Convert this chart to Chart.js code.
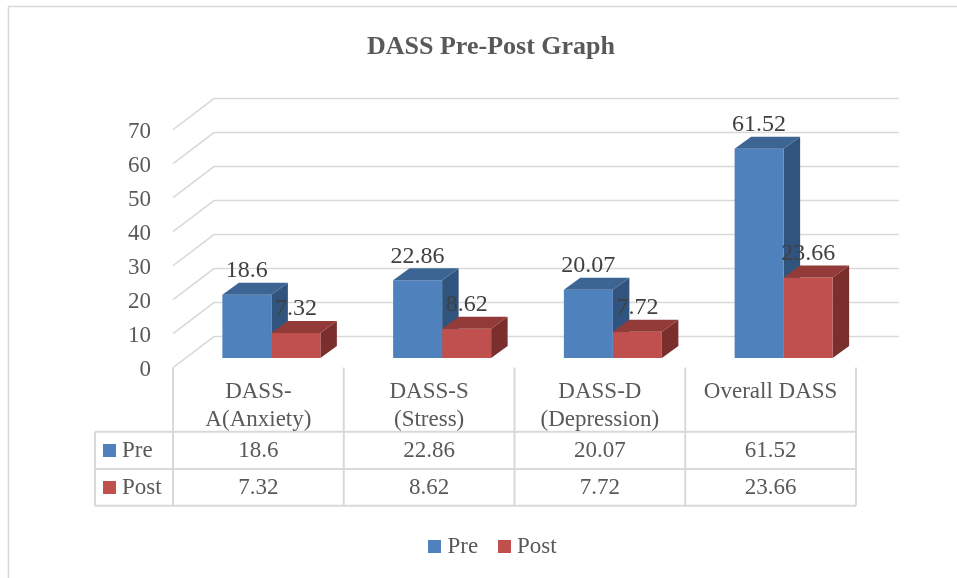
<!DOCTYPE html>
<html>
<head>
<meta charset="utf-8">
<script src="https://cdn.jsdelivr.net/npm/chart.js@4.4.1/dist/chart.umd.min.js"></script>
<style>
  html, body { margin: 0; padding: 0; background: #fff; overflow: hidden; }
  canvas { display: block; }
</style>
</head>
<body>
<canvas id="dassChart" width="957" height="578"></canvas>
<script>
const chartTitle = 'DASS Pre-Post Graph';
const categories = [['DASS-', 'A(Anxiety)'], ['DASS-S', '(Stress)'], ['DASS-D', '(Depression)'], ['Overall DASS']];
const seriesNames = ['Pre', 'Post'];
const preValues = [18.6, 22.86, 20.07, 61.52];
const postValues = [7.32, 8.62, 7.72, 23.66];
const yTicks = [0, 10, 20, 30, 40, 50, 60, 70];

const blue = '#4F81BD', blueTop = '#3D6594', blueSide = '#31547E';
const red = '#C0504D', redTop = '#923B39', redSide = '#7B2F2D';
const gridGrey = '#D9D9D9';
const textGrey = '#595959';
const labelDark = '#404040';
const serif = '"Liberation Serif", "Times New Roman", serif';

// fake 3D: bar plane -> front edge, bar plane -> back wall, bar depth
const toFront = { x: -13, y: 9.6 };
const toBack = { x: 28, y: -21.4 };
const depth = { x: 16.5, y: -12 };

// table rows (y centres) and lines
const headerLines = [392, 420];
const rowY = [450.5, 487.5];
const rowLines = [431.7, 469, 505.7];
const tableLeft = 95;

const fake3d = {
    id: 'fake3d',
    beforeDatasetsDraw(chart) {
        const ctx = chart.ctx;
        const { left, right } = chart.chartArea;
        const y = chart.scales.y;
        ctx.save();

        // outer frame
        ctx.strokeStyle = gridGrey;
        ctx.lineWidth = 1.5;
        ctx.beginPath();
        ctx.moveTo(8.5, 578); ctx.lineTo(8.5, 6.5); ctx.lineTo(957, 6.5);
        ctx.stroke();

        // title
        ctx.fillStyle = textGrey;
        ctx.font = 'bold 26px ' + serif;
        ctx.textAlign = 'center';
        ctx.textBaseline = 'middle';
        ctx.fillText(chartTitle, 491, 47);

        // gridlines on side + back wall, tick labels at front
        ctx.font = '23px ' + serif;
        ctx.textAlign = 'right';
        yTicks.forEach(v => {
            const py = y.getPixelForValue(v);
            ctx.beginPath();
            ctx.moveTo(left + toFront.x, py + toFront.y);
            ctx.lineTo(left + toBack.x, py + toBack.y);
            ctx.lineTo(right + toBack.x + 2, py + toBack.y);
            ctx.stroke();
            ctx.fillText(String(v), 151, py + toFront.y + 2);
        });

        // side faces go under the front faces of the next series
        chart.data.datasets.forEach((ds, i) => {
            chart.getDatasetMeta(i).data.forEach(bar => {
                const x1 = bar.x + bar.width / 2;
                ctx.fillStyle = ds.sideColor;
                ctx.beginPath();
                ctx.moveTo(x1, bar.y);
                ctx.lineTo(x1 + depth.x, bar.y + depth.y);
                ctx.lineTo(x1 + depth.x, bar.base + depth.y);
                ctx.lineTo(x1, bar.base);
                ctx.closePath();
                ctx.fill();
            });
        });
        ctx.restore();
    },
    afterDatasetsDraw(chart) {
        const ctx = chart.ctx;
        const { left, right } = chart.chartArea;
        const x = chart.scales.x;
        ctx.save();

        // top faces + value labels
        chart.data.datasets.forEach((ds, i) => {
            chart.getDatasetMeta(i).data.forEach(bar => {
                const x0 = bar.x - bar.width / 2, x1 = bar.x + bar.width / 2;
                ctx.fillStyle = ds.topColor;
                ctx.beginPath();
                ctx.moveTo(x0, bar.y);
                ctx.lineTo(x0 + depth.x, bar.y + depth.y);
                ctx.lineTo(x1 + depth.x, bar.y + depth.y);
                ctx.lineTo(x1, bar.y);
                ctx.closePath();
                ctx.fill();
            });
        });
        ctx.font = '24px ' + serif;
        ctx.fillStyle = labelDark;
        ctx.textAlign = 'center';
        ctx.textBaseline = 'middle';
        chart.data.datasets.forEach((ds, i) => {
            chart.getDatasetMeta(i).data.forEach((bar, j) => {
                ctx.fillText(String(ds.data[j]), bar.x, bar.y - 24);
            });
        });

        // data table
        const colW = (right - left) / categories.length;
        const frontLeft = left + toFront.x;
        const frontRight = right + toFront.x;
        const floorY = chart.scales.y.getPixelForValue(0) + toFront.y;
        ctx.strokeStyle = gridGrey;
        ctx.lineWidth = 2;
        ctx.beginPath();
        for (let k = 0; k <= categories.length; k++) {
            ctx.moveTo(frontLeft + k * colW, floorY);
            ctx.lineTo(frontLeft + k * colW, rowLines[2]);
        }
        ctx.moveTo(tableLeft, rowLines[0]);
        ctx.lineTo(tableLeft, rowLines[2]);
        rowLines.forEach(ly => {
            ctx.moveTo(tableLeft, ly);
            ctx.lineTo(frontRight, ly);
        });
        ctx.stroke();

        ctx.fillStyle = textGrey;
        ctx.font = '23px ' + serif;
        categories.forEach((lines, k) => {
            const cx = x.getPixelForValue(k) + toFront.x;
            lines.forEach((t, n) => ctx.fillText(t, cx, headerLines[n]));
            chart.data.datasets.forEach((ds, i) => {
                ctx.fillText(String(ds.data[k]), cx, rowY[i]);
            });
        });

        // row keys
        ctx.textAlign = 'left';
        chart.data.datasets.forEach((ds, i) => {
            ctx.fillStyle = ds.backgroundColor;
            ctx.fillRect(103, rowY[i] - 6.5, 13, 13);
            ctx.fillStyle = textGrey;
            ctx.fillText(ds.label, 122, rowY[i]);
        });

        // bottom legend
        const legendX = [[428, 447.5], [498, 517]];
        chart.data.datasets.forEach((ds, i) => {
            ctx.fillStyle = ds.backgroundColor;
            ctx.fillRect(legendX[i][0], 540, 13, 13);
            ctx.fillStyle = textGrey;
            ctx.fillText(ds.label, legendX[i][1], 546.5);
        });
        ctx.restore();
    }
};

const ctx = document.getElementById('dassChart').getContext('2d');
new Chart(ctx, {
    type: 'bar',
    data: {
        labels: categories,
        datasets: [
            { label: seriesNames[0], data: preValues, backgroundColor: blue, topColor: blueTop, sideColor: blueSide },
            { label: seriesNames[1], data: postValues, backgroundColor: red, topColor: redTop, sideColor: redSide }
        ]
    },
    options: {
        responsive: false,
        animation: false,
        layout: { padding: { left: 186, right: 88, top: 120, bottom: 220 } },
        datasets: { bar: { categoryPercentage: 0.574, barPercentage: 1.0, borderWidth: 0 } },
        scales: {
            x: { display: false },
            y: { display: false, min: 0, max: 70 }
        },
        plugins: { legend: { display: false }, title: { display: false }, tooltip: { enabled: false } }
    },
    plugins: [fake3d]
});
</script>
</body>
</html>
